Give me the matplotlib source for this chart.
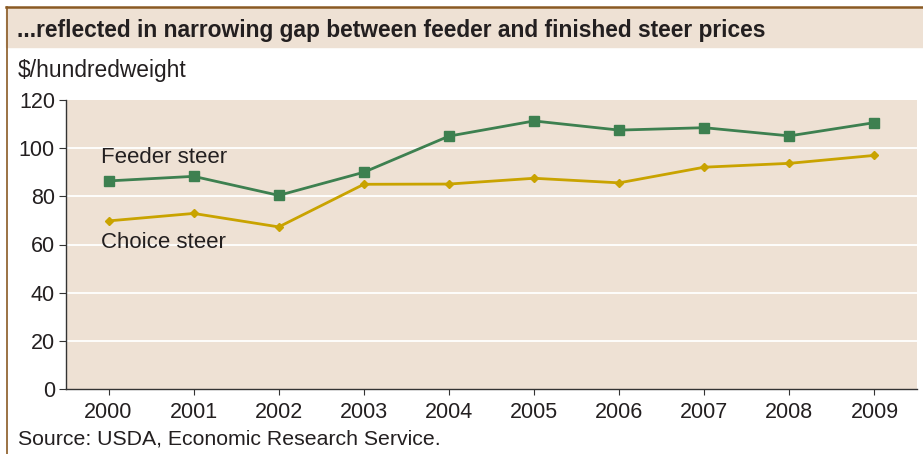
import matplotlib.pyplot as plt
from matplotlib.patches import Rectangle
from matplotlib.lines import Line2D

plt.rcParams['font.family'] = ['Liberation Sans', 'DejaVu Sans']

#####   Data   #####
years = [2000, 2001, 2002, 2003, 2004, 2005, 2006, 2007, 2008, 2009]
feeder = [86.4, 88.3, 80.4, 90.0, 105.0, 111.3, 107.5, 108.5, 105.1, 110.6]
choice = [69.8, 72.9, 67.3, 85.0, 85.1, 87.5, 85.6, 92.1, 93.7, 97.0]
yticks = [0, 20, 40, 60, 80, 100, 120]

BEIGE = '#eee1d4'
GREEN = '#3d8050'
GOLD = '#c9a300'
BROWN = '#8a5a24'
TEXT = '#231f20'

W, H = 923, 454
fig = plt.figure(figsize=(W / 100, H / 100), dpi=100)

# header band and frame lines
fig.patches.append(Rectangle((6 / W, 1 - 47 / H), 1 - 6 / W, 39 / H,
                             transform=fig.transFigure, color=BEIGE, zorder=0))
fig.lines.append(Line2D([6 / W, 1], [1 - 7 / H, 1 - 7 / H], transform=fig.transFigure,
                        color=BROWN, lw=1.8))
fig.lines.append(Line2D([6.5 / W, 6.5 / W], [0, 1 - 7 / H], transform=fig.transFigure,
                        color=BROWN, lw=1.2))

fig.text(17 / W, 1 - 30 / H, '...reflected in narrowing gap between feeder and finished steer prices',
         fontsize=16.4, fontweight='bold', color=TEXT, va='center')
fig.text(18 / W, 1 - 71 / H, '$/hundredweight', fontsize=16.4, color=TEXT, va='center')
fig.text(18 / W, 1 - 439 / H, 'Source: USDA, Economic Research Service.',
         fontsize=15.3, color=TEXT, va='center')

ax = fig.add_axes([66 / W, 65 / H, (917 - 66) / W, (389 - 100) / H])
ax.set_facecolor(BEIGE)

x = list(range(len(years)))
ax.plot(x, feeder, color=GREEN, lw=2.0, marker='s', ms=6.5, zorder=3)
ax.plot(x, choice, color=GOLD, lw=2.0, marker='D', ms=4.5, zorder=3)

ax.text(-0.09, 96, 'Feeder steer', fontsize=16, color=TEXT, va='center')
ax.text(-0.09, 61, 'Choice steer', fontsize=16, color=TEXT, va='center')

ax.set_xlim(-0.5, 9.5)
ax.set_ylim(0, 120)
ax.set_yticks(yticks)
ax.set_xticks(x)
ax.set_xticklabels([str(y) for y in years])
for y in yticks[1:-1]:
    ax.axhline(y, color='white', lw=1.3, zorder=1)

for side in ['top', 'right']:
    ax.spines[side].set_visible(False)
for side in ['left', 'bottom']:
    ax.spines[side].set_color('#333333')
    ax.spines[side].set_linewidth(1.0)

ax.tick_params(axis='y', length=5, width=0.8, color='#333333', labelsize=15.5,
               labelcolor=TEXT, pad=3)
ax.tick_params(axis='x', length=4, width=0.8, color='#333333', labelsize=15.5,
               labelcolor=TEXT, pad=5)

fig.savefig('out.png', dpi=100)
